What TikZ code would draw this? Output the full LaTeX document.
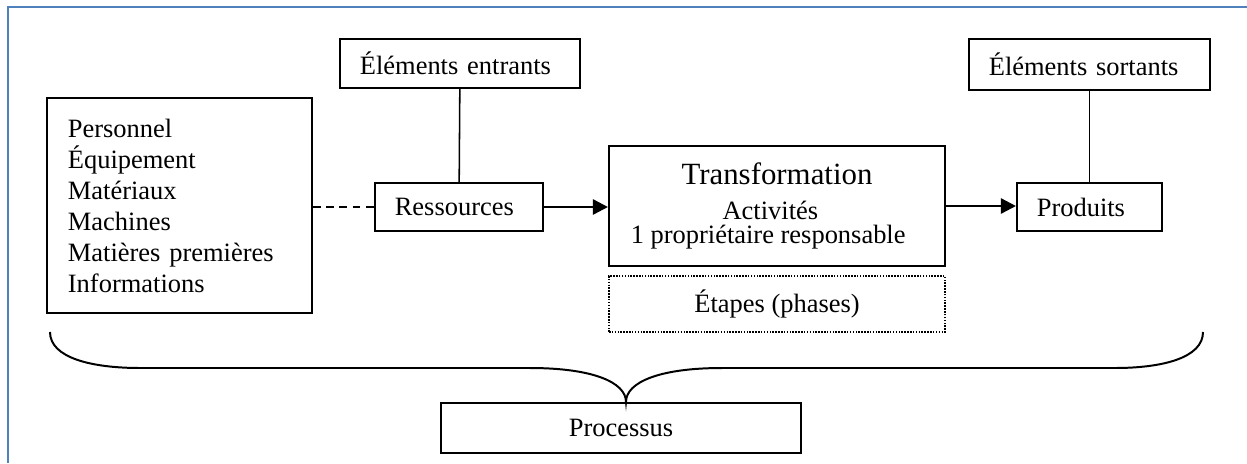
\documentclass[tikz,border=0pt]{standalone}
\usepackage{fontspec}
\setmainfont{Liberation Serif}
\usetikzlibrary{arrows.meta}

\begin{document}
\begin{tikzpicture}
[x=0.4535pt,y=-0.4535pt,every node/.style={rectangle,draw,line width=0.9pt,inner sep=0pt,
  font=\fontsize{12}{14.06}\selectfont},
 lbox/.style={align=left,inner xsep=9pt,text width=#1},
 flow/.style={line width=1.1pt,-{Triangle[length=6.8pt,width=6.8pt]}},
 link/.style={line width=0.7pt}]
  \useasboundingbox (0,0) rectangle (1247,463);
  % cadre
  \draw[line width=1.2pt,color={rgb,255:red,79;green,129;blue,189}] (1247,7) -- (8,7) -- (8,463);

  \node[lbox=90.8pt,minimum height=22.2pt] (entr) at (460,63.5)  {Éléments entrants};
  \node[lbox=91.3pt,minimum height=22.7pt] (sort) at (1089.5,64.5) {Éléments sortants};
  \node[lbox=101.2pt,inner xsep=9.5pt,minimum height=97.5pt] (pers) at (179.5,205.5)
    {Personnel\\Équipement\\Matériaux\\Machines\\Matières premières\\Informations};
  \node[lbox=58.2pt,minimum height=21.8pt] (res) at (459,207) {Ressources};
  \node[align=center,minimum width=152.4pt,minimum height=54.4pt,font=\fontsize{12}{11}\selectfont]
    (trans) at (777,206) {{\fontsize{14}{16}\selectfont Transformation}\\[4.5pt]
    Activités\kern6pt\\1 propriétaire responsable\kern8pt};
  \node[minimum width=152.4pt,minimum height=25.4pt,line width=0.7pt,dash pattern=on 0.7pt off 0.6pt]
    (etap) at (777,304) {Étapes (phases)};
  \node[lbox=47.8pt,minimum height=21.8pt] (prod) at (1089.5,207) {Produits};
  \node[minimum width=163.3pt,minimum height=22.7pt] (proc) at (621,428) {Processus};

  \foreach \from/\to in {entr/res,sort/prod}
    \draw[link] (\from) -- (\to);
  \draw[link,dash pattern=on 3.5pt off 2.5pt] (pers.east |- res) -- (res);
  \foreach \from/\to in {res/trans,trans/prod}
    \draw[flow] (\from) -- (\from -| \to.west);

  % accolade
  \draw[line width=0.9pt] (50,332) .. controls (50,358) and (92,368) .. (140,368) -- (530,368)
    .. controls (592,368) and (626,382) .. (626,402)
    .. controls (626,382) and (660,368) .. (722,368) -- (1115,368)
    .. controls (1162,368) and (1203,358) .. (1203,332);
\end{tikzpicture}
\end{document}
